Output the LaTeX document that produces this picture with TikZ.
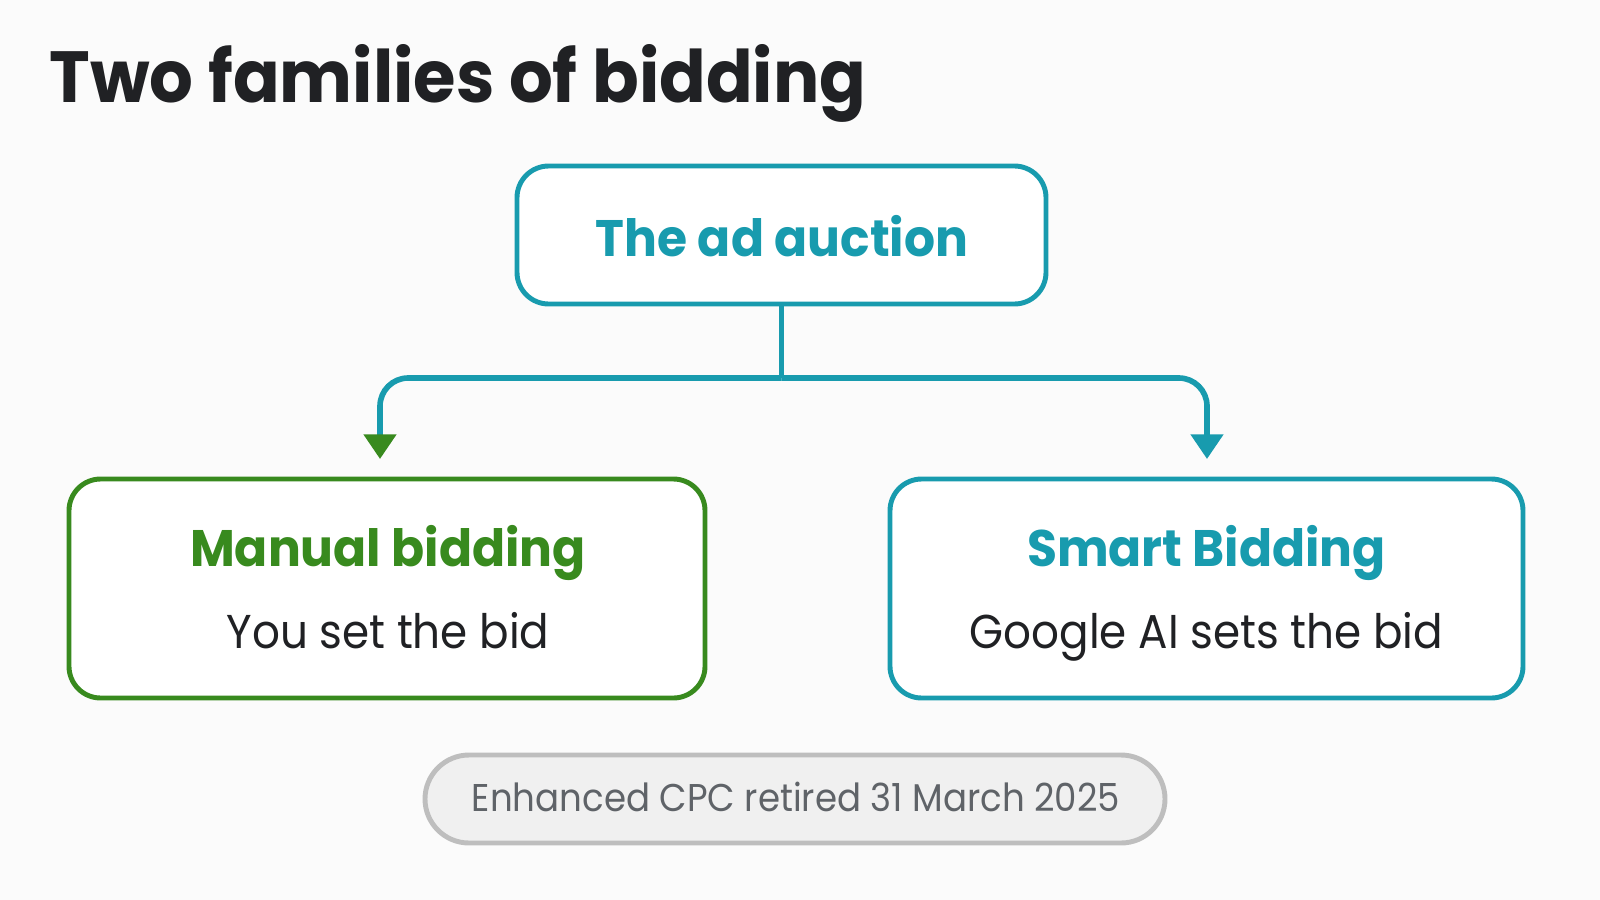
\documentclass[tikz,border=0pt]{standalone}
\usepackage{fontspec}
\setmainfont{Poppins}
\newfontfamily\boldf[FakeStretch=0.95]{Poppins Bold}
\newfontfamily\regf[FakeStretch=0.92]{Poppins}
\usetikzlibrary{arrows.meta,calc}
\definecolor{teal}{RGB}{24,155,174}
\definecolor{grn}{RGB}{56,138,30}
\definecolor{ink}{RGB}{32,33,36}
\definecolor{pillbg}{RGB}{240,240,240}
\definecolor{pillbd}{RGB}{190,190,190}
\definecolor{pilltx}{RGB}{95,99,104}
\definecolor{bg}{RGB}{251,251,251}
\tikzset{
  box/.style={draw, line width=1.4pt, rounded corners=9pt, fill=white},
  conn/.style={draw=teal, line width=1.6pt},
  tip/.style={-{Triangle[length=7pt,width=9pt]}},
}
\begin{document}
\begin{tikzpicture}[x=0.01cm,y=-0.01cm]
\fill[bg] (0,0) rectangle (1600,900);
\useasboundingbox (0,0) rectangle (1600,900);
% title
\node[anchor=base west, inner sep=0, text=ink, font=\boldf\fontsize{20.6}{25}\selectfont] (title) at (49,102) {Two families of bidding};
% top box
\node[box, draw=teal, minimum width=529*0.01cm, minimum height=138*0.01cm] (top) at (781.5,235) {};
\node[text=teal, font=\boldf\fontsize{14.6}{18}\selectfont, anchor=base] (toptxt) at (782,256) {The ad auction};
% left box
\node[box, draw=grn, minimum width=636*0.01cm, minimum height=219*0.01cm] (left) at (387,588.5) {};
\node[text=grn, font=\boldf\fontsize{14.6}{18}\selectfont, anchor=base] (lt) at (388,566) {Manual bidding};
\node[text=ink, font=\regf\fontsize{13.5}{17}\selectfont, anchor=base] (ls) at (388,648) {You set the bid};
% right box
\node[box, draw=teal, minimum width=633*0.01cm, minimum height=219*0.01cm] (right) at (1206.5,588.5) {};
\node[text=teal, font=\boldf\fontsize{14.6}{18}\selectfont, anchor=base] (rt) at (1206.5,566) {Smart Bidding};
\node[text=ink, font=\regf\fontsize{13.5}{17}\selectfont, anchor=base] (rs) at (1206.5,648) {Google AI sets the bid};
% connectors
\coordinate (j) at (top.south |- 0,378);
\coordinate (la) at (380,459);
\coordinate (ra) at (1207,459);
\draw[conn] (top.south) -- (j);
\draw[conn, rounded corners=8pt, -{Triangle[length=7pt,width=9pt,color=grn]}] (j) -| (la);
\draw[conn, tip, rounded corners=8pt] (j) -| (ra);
% pill
\node[draw=pillbd, fill=pillbg, line width=1.4pt, rounded corners=44*0.01cm, minimum width=740*0.01cm, minimum height=88*0.01cm] (pill) at (795,799) {};
\node[text=pilltx, font=\regf\fontsize{11}{14}\selectfont, anchor=base] (ptxt) at (796,811) {Enhanced CPC retired 31 March 2025};
\end{tikzpicture}
\end{document}
